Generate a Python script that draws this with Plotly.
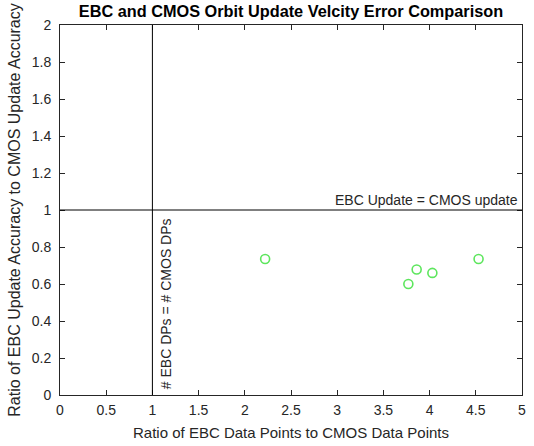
import plotly.graph_objects as go

# Ratio of EBC data points to CMOS data points, and ratio of update accuracy
dp_ratio = [2.22, 3.77, 3.86, 4.03, 4.53]
accuracy_ratio = [0.735, 0.60, 0.678, 0.66, 0.735]

x_ticks = [0, 0.5, 1, 1.5, 2, 2.5, 3, 3.5, 4, 4.5, 5]
x_tick_labels = ["0", "0.5", "1", "1.5", "2", "2.5", "3", "3.5", "4", "4.5", "5"]
y_ticks = [0, 0.2, 0.4, 0.6, 0.8, 1, 1.2, 1.4, 1.6, 1.8, 2]
y_tick_labels = ["0", "0.2", "0.4", "0.6", "0.8", "1", "1.2", "1.4", "1.6", "1.8", "2"]

font_family = "Liberation Sans, Arial, sans-serif"
tick_color = "#262626"

fig = go.Figure()

fig.add_trace(go.Scatter(
    x=dp_ratio, y=accuracy_ratio, mode="markers",
    marker=dict(symbol="circle-open", size=9, color="#5de65d",
                line=dict(width=1.6, color="#5de65d")),
    showlegend=False,
))

# Reference lines: equal accuracy and equal data-point count
fig.add_shape(type="line", x0=0, x1=5, y0=1, y1=1, xref="x", yref="y",
              line=dict(color="black", width=1))
fig.add_shape(type="line", x0=1, x1=1, y0=0, y1=2, xref="x", yref="y",
              line=dict(color="black", width=1))

fig.add_annotation(x=5, y=1, xref="x", yref="y", text="EBC Update = CMOS update",
                   showarrow=False, xanchor="right", yanchor="bottom", yshift=0, xshift=-2,
                   font=dict(family=font_family, size=14, color="#262626"))
fig.add_annotation(x=1, y=0.02, xref="x", yref="y", text="# EBC DPs = # CMOS DPs",
                   showarrow=False, textangle=-90, xanchor="left", yanchor="bottom",
                   xshift=3,
                   font=dict(family=font_family, size=14, color="#262626"))

axis_common = dict(
    showgrid=False, zeroline=False, showline=True, linecolor=tick_color, linewidth=1,
    mirror="ticks", ticks="inside", ticklen=5, tickcolor=tick_color,
    tickfont=dict(family=font_family, size=14, color=tick_color),
)

fig.update_xaxes(range=[0, 5], tickvals=x_ticks, ticktext=x_tick_labels,
                 ticklabelstandoff=2,
                 title=dict(text="Ratio of EBC Data Points to CMOS Data Points",
                            font=dict(family=font_family, size=15, color=tick_color),
                            standoff=10),
                 **axis_common)
fig.update_yaxes(range=[0, 2], tickvals=y_ticks, ticktext=y_tick_labels,
                 ticklabelstandoff=5,
                 title=dict(text="Ratio of EBC Update Accuracy to CMOS Update Accuracy",
                            font=dict(family=font_family, size=16, color=tick_color),
                            standoff=7),
                 **axis_common)

fig.update_layout(
    width=534, height=446,
    margin=dict(l=60, r=8, t=25, b=51),
    paper_bgcolor="white", plot_bgcolor="white",
    title=dict(text="<b>EBC and CMOS Orbit Update Velcity Error Comparison</b>",
               xref="paper", x=0.5, xanchor="center", y=0.988, yanchor="top",
               font=dict(family=font_family, size=16.3, color="black")),
)

fig.write_html("out.html")
